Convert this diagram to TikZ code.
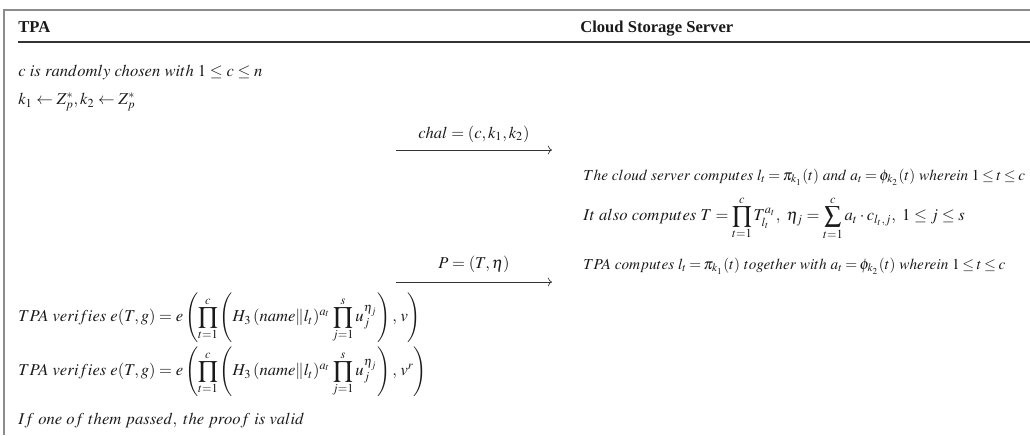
\documentclass[tikz,border=0pt]{standalone}
\usepackage{amsmath, amssymb}
\usepackage{mathptmx}
\usepackage[no-math]{fontspec}
\setmainfont{Liberation Serif}
\usepackage{tikz}
\usetikzlibrary{
  arrows.meta,
  positioning,
  calc
}
\definecolor{FigText}{HTML}{1A1A1A}
\definecolor{FigFrame}{HTML}{8C8C8C}
\definecolor{FigRule}{HTML}{333333}
\newcommand{\srvfont}{\fontsize{9.2}{11}\selectfont\thickmuskip=3mu\relax}

\begin{document}
\begin{tikzpicture}[
x=0.0212cm, y=-0.0212cm,
font=\normalsize,
>=To,
partyhead/.style={
font=\bfseries,
anchor=base west,
inner sep=0pt
},
stepline/.style={
anchor=west,
inner sep=0pt
},
srvline/.style={
stepline,
font=\srvfont
},
msglabel/.style={
anchor=base,
inner sep=0pt
},
msgarrow/.style={
->,
thin,
draw=FigRule
},
every node/.style={text=FigText}
]
\useasboundingbox (0,0) rectangle (1030,435);

% frame and header rule
\draw[FigFrame, line width=0.9pt] (4,435) -- (4,10) -- (1030,10);
\draw[FigRule, line width=0.7pt] (18,42) -- (1030,42);

% parties
\node[partyhead] (tpa) at (18,32) {TPA};
\node[partyhead] (css) at (580,32) {Cloud Storage Server};

% TPA - challenge
\node[stepline] (pick) at (18,72) {$c\ is\ randomly\ chosen\ with\ 1 \leq c \leq n$};
\node[stepline] (keys) at (18,102) {$k_1 \leftarrow Z_p^{*}, k_2 \leftarrow Z_p^{*}$};

\coordinate (chalL) at (396,150);
\coordinate (chalR) at (552,150);
\node[msglabel] (chal) at ($(chalL)!0.5!(chalR)+(0,-12)$) {$chal = (c, k_1, k_2)$};
\draw[msgarrow] (chalL) -- (chalR);

% server - proof
\node[srvline] (srv1) at (583,177) {$The\ cloud\ server\ computes\ l_t = \pi_{k_1}(t)\ and\ a_t = \phi_{k_2}(t)\ wherein\ 1 \leq t \leq c$};
\node[stepline] (srv2) at (583,218) {$It\ also\ computes\ T = \displaystyle\prod_{t=1}^{c} T_{l_t}^{a_t},\ \eta_j = \sum_{t=1}^{c} a_t \cdot c_{l_t,j},\ 1 \leq j \leq s$};

\coordinate (proofL) at (396,282);
\coordinate (proofR) at (552,282);
\node[msglabel] (proof) at ($(proofL)!0.5!(proofR)+(0,-14)$) {$P = (T, \eta)$};
\draw[msgarrow] (proofL) -- (proofR);
\node[srvline] (srv3) at (583,266) {$TPA\ computes\ l_t = \pi_{k_1}(t)\ together\ with\ a_t = \phi_{k_2}(t)\ wherein\ 1 \leq t \leq c$};

% TPA - verification
\node[stepline] (ver1) at (18,318) {$\displaystyle TPA\ verifies\ e(T, g) = e\left(\prod_{t=1}^{c}\left(H_3\,(name\|l_t)^{a_t}\prod_{j=1}^{s}u_j^{\eta_j}\right),\, v\right)$};
\node[stepline] (ver2) at (18,372) {$\displaystyle TPA\ verifies\ e(T, g) = e\left(\prod_{t=1}^{c}\left(H_3\,(name\|l_t)^{a_t}\prod_{j=1}^{s}u_j^{\eta_j}\right),\, v^r\right)$};
\node[stepline] (valid) at (18,421) {$If\ one\ of\ them\ passed,\ the\ proof\ is\ valid$};

\end{tikzpicture}
\end{document}
